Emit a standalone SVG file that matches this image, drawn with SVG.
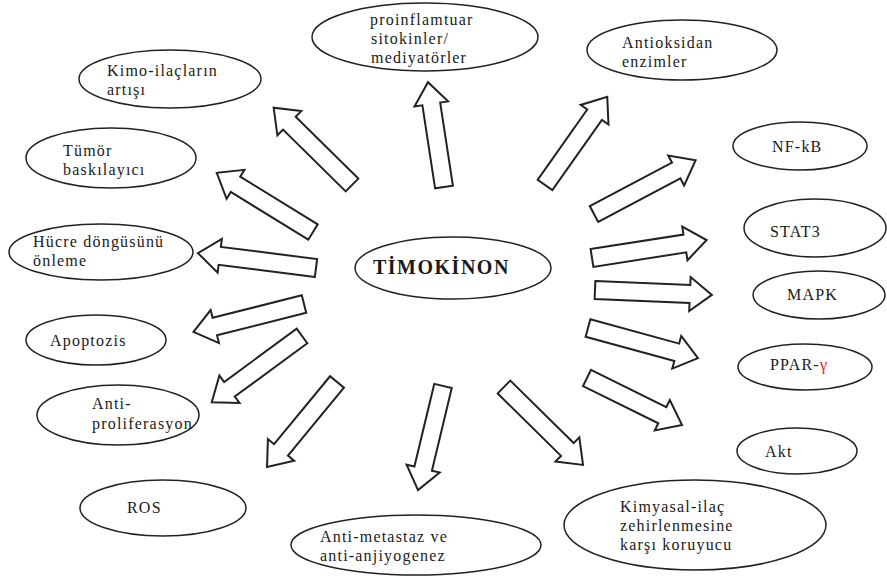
<svg xmlns="http://www.w3.org/2000/svg" width="887" height="576" viewBox="0 0 887 576" font-family="'Liberation Serif', 'DejaVu Serif', serif">
<style>
.n ellipse{fill:#fff;stroke:#222;stroke-width:1.5}
.t{font-family:'Liberation Serif','DejaVu Serif',serif;font-size:16px;letter-spacing:1.2px;fill:#1a1a1a}
.b{font-weight:bold;font-size:20px;letter-spacing:1.5px}
.a polygon{fill:#fff;stroke:#222;stroke-width:2;stroke-linejoin:miter}
</style>
<rect width="887" height="576" fill="#fff"/>
<g id="connectors" class="a">
<polygon transform="translate(352,185) rotate(-135.4)" points="0,-9 88,-9 88,-17 110,0 88,17 88,9 0,9"/>
<polygon transform="translate(313,232) rotate(-148.4)" points="0,-9 91,-9 91,-17 113,0 91,17 91,9 0,9"/>
<polygon transform="translate(316,268) rotate(-172.8)" points="0,-9 97,-9 97,-17 119,0 97,17 97,9 0,9"/>
<polygon transform="translate(304,304) rotate(165.8)" points="0,-9 92,-9 92,-17 114,0 92,17 92,9 0,9"/>
<polygon transform="translate(302,336) rotate(143.7)" points="0,-9 90,-9 90,-17 112,0 90,17 90,9 0,9"/>
<polygon transform="translate(337,382) rotate(129.5)" points="0,-9 88,-9 88,-17 110,0 88,17 88,9 0,9"/>
<polygon transform="translate(443,386) rotate(103.5)" points="0,-9 85,-9 85,-17 107,0 85,17 85,9 0,9"/>
<polygon transform="translate(504,387) rotate(44.6)" points="0,-9 89,-9 89,-17 111,0 89,17 89,9 0,9"/>
<polygon transform="translate(587,378) rotate(26.3)" points="0,-9 84,-9 84,-17 106,0 84,17 84,9 0,9"/>
<polygon transform="translate(588,328) rotate(15.3)" points="0,-9 92,-9 92,-17 114,0 92,17 92,9 0,9"/>
<polygon transform="translate(595,290) rotate(2.4)" points="0,-9 95,-9 95,-17 117,0 95,17 95,9 0,9"/>
<polygon transform="translate(592,258) rotate(-8.9)" points="0,-9 94,-9 94,-17 116,0 94,17 94,9 0,9"/>
<polygon transform="translate(594,214) rotate(-27.9)" points="0,-9 93,-9 93,-17 115,0 93,17 93,9 0,9"/>
<polygon transform="translate(545,185) rotate(-54.8)" points="0,-9 86,-9 86,-17 108,0 86,17 86,9 0,9"/>
<polygon transform="translate(444,187) rotate(-98.7)" points="0,-9 84,-9 84,-17 106,0 84,17 84,9 0,9"/>
</g>
<g id="timokinon" class="n"><ellipse cx="453" cy="268" rx="98" ry="31"/><text class="t b" x="373" y="274">TİMOKİNON</text></g>
<g id="kimo" class="n"><ellipse cx="170" cy="79" rx="91" ry="29"/><text class="t" x="107" y="76">Kimo-ilaçların</text><text class="t" x="107" y="95">artışı</text></g>
<g id="tumor" class="n"><ellipse cx="111" cy="158" rx="85" ry="30"/><text class="t" x="63" y="156">Tümör</text><text class="t" x="63" y="175">baskılayıcı</text></g>
<g id="proinflam" class="n"><ellipse cx="425" cy="37" rx="113" ry="34"/><text class="t" x="370" y="25">proinflamtuar</text><text class="t" x="371" y="44">sitokinler/</text><text class="t" x="371" y="63">mediyatörler</text></g>
<g id="antioksidan" class="n"><ellipse cx="682" cy="50" rx="95" ry="30"/><text class="t" x="622" y="48">Antioksidan</text><text class="t" x="622" y="67">enzimler</text></g>
<g id="nfkb" class="n"><ellipse cx="800" cy="146" rx="67" ry="24"/><text class="t" x="772" y="152">NF-kB</text></g>
<g id="stat3" class="n"><ellipse cx="815" cy="228" rx="71" ry="29"/><text class="t" x="770" y="237">STAT3</text></g>
<g id="mapk" class="n"><ellipse cx="819" cy="295" rx="66" ry="24"/><text class="t" x="787" y="300">MAPK</text></g>
<g id="ppar" class="n"><ellipse cx="805" cy="367" rx="67" ry="23"/><text class="t" x="770" y="370">PPAR-<tspan fill="#e8202a">γ</tspan></text></g>
<g id="akt" class="n"><ellipse cx="797" cy="451" rx="60" ry="23"/><text class="t" x="765" y="457">Akt</text></g>
<g id="kimyasal" class="n"><ellipse cx="695" cy="525" rx="131" ry="45"/><text class="t" x="620" y="512">Kimyasal-ilaç</text><text class="t" x="620" y="531">zehirlenmesine</text><text class="t" x="620" y="550">karşı koruyucu</text></g>
<g id="antimetastaz" class="n"><ellipse cx="416" cy="545" rx="125" ry="30"/><text class="t" x="320" y="542">Anti-metastaz ve</text><text class="t" x="320" y="561">anti-anjiyogenez</text></g>
<g id="ros" class="n"><ellipse cx="163" cy="508" rx="83" ry="28"/><text class="t" x="127" y="513">ROS</text></g>
<g id="antiprolif" class="n"><ellipse cx="118" cy="415" rx="81" ry="30"/><text class="t" x="92" y="409">Anti-</text><text class="t" x="92" y="429">proliferasyon</text></g>
<g id="apoptozis" class="n"><ellipse cx="96" cy="340" rx="70" ry="25"/><text class="t" x="50" y="346">Apoptozis</text></g>
<g id="hucre" class="n"><ellipse cx="101" cy="252" rx="92" ry="28"/><text class="t" x="33" y="247">Hücre döngüsünü</text><text class="t" x="33" y="266">önleme</text></g>
</svg>
